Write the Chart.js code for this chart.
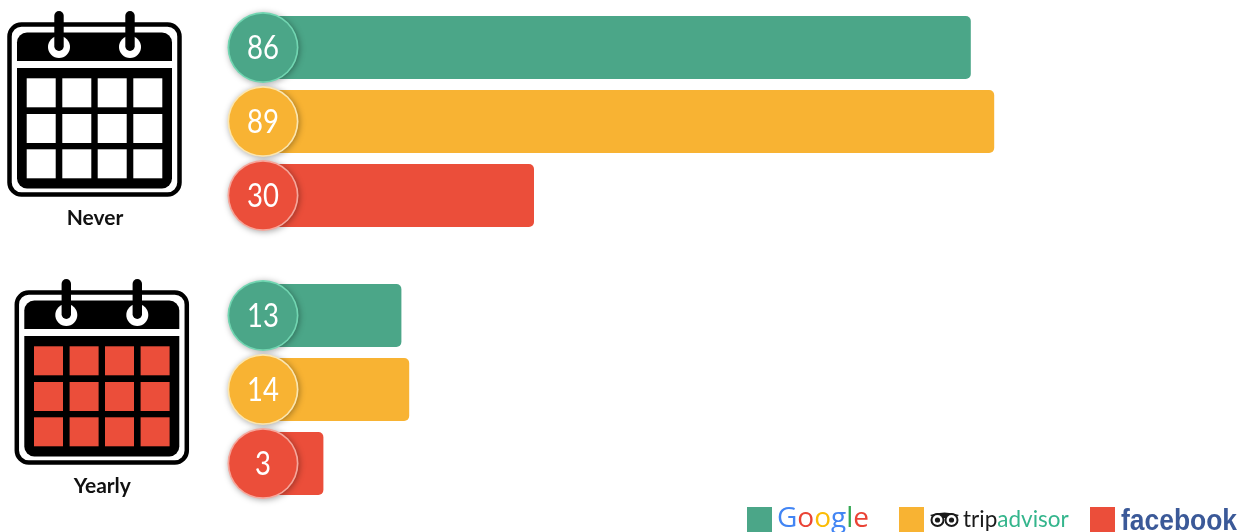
<!DOCTYPE html>
<html>
<head>
<meta charset="utf-8">
<title>Review frequency by platform</title>
<script src="https://cdn.jsdelivr.net/npm/chart.js@4"></script>
<style>
  html, body { margin: 0; padding: 0; background: #fff; overflow: hidden; }
  #wrap { position: absolute; left: 0; top: -20px; width: 1245px; height: 552px; }
</style>
</head>
<body>
<div id="wrap"><canvas id="c" width="1245" height="552"></canvas></div>
<script>
const categories = ['Never', 'Yearly'];
const seriesNames = ['Google', 'tripadvisor', 'facebook'];
const googleValues = [86, 13];
const tripadvisorValues = [89, 14];
const facebookValues = [30, 3];
const seriesColors = ['#4BA688', '#F8B333', '#EB4E3A'];
const rimColors = ['#72D6B2', '#FBE6B0', '#F6A79C'];
const cellColors = ['#FFFFFF', '#EB4E3A'];

const TOP_OFFSET = 20;   // the canvas starts above the page so both groups can sit on even category bands

function roundRect(ctx, x, y, w, h, r) {
  ctx.beginPath();
  ctx.roundRect(x, y, w, h, r);
}

// Wall calendar with two binder rings; ox/oy is the icon's offset on the page.
function drawCalendar(ctx, ox, oy, cellColor) {
  ctx.save();
  ctx.translate(ox, oy);
  ctx.strokeStyle = '#000';
  ctx.lineWidth = 4.5;
  roundRect(ctx, 9.5, 24.5, 170, 170, 12);
  ctx.stroke();
  ctx.fillStyle = '#000';
  roundRect(ctx, 17, 32.5, 155, 28.5, [10, 10, 0, 0]);
  ctx.fill();
  roundRect(ctx, 17, 68, 155, 120.5, [0, 0, 10, 10]);
  ctx.fill();
  ctx.fillStyle = cellColor;
  [26.7, 62.3, 97.7, 133.3].forEach(cx => {
    [78.3, 114, 149.3].forEach(cy => ctx.fillRect(cx, cy, 29, 29));
  });
  [59, 130].forEach(px => {
    ctx.fillStyle = '#fff';
    ctx.beginPath(); ctx.arc(px, 47, 11, 0, Math.PI * 2); ctx.fill();
    ctx.fillStyle = '#000';
    roundRect(ctx, px - 4.7, 11, 9.4, 40, 4.7);
    ctx.fill();
  });
  ctx.restore();
}

// TripAdvisor owl: two ringed eyes and a small beak.
function drawOwl(ctx, x, y) {
  ctx.save();
  ctx.fillStyle = '#1a1a1a';
  ctx.beginPath();
  ctx.moveTo(x - 1, y - 5);
  ctx.quadraticCurveTo(x + 13.5, y - 10, x + 28, y - 5);
  ctx.lineTo(x + 24, y - 2);
  ctx.lineTo(x + 3, y - 2);
  ctx.fill();
  [x + 6.5, x + 20.5].forEach(ex => {
    ctx.fillStyle = '#1a1a1a';
    ctx.beginPath(); ctx.arc(ex, y, 7, 0, Math.PI * 2); ctx.fill();
    ctx.fillStyle = '#fff';
    ctx.beginPath(); ctx.arc(ex, y, 5, 0, Math.PI * 2); ctx.fill();
    ctx.fillStyle = '#1a1a1a';
    ctx.beginPath(); ctx.arc(ex, y, 2.6, 0, Math.PI * 2); ctx.fill();
  });
  ctx.restore();
}

function drawRuns(ctx, x, y, runs) {
  runs.forEach(([text, color]) => {
    ctx.fillStyle = color;
    ctx.fillText(text, x, y);
    x += ctx.measureText(text).width;
  });
}

const categoryArt = {
  id: 'categoryArt',
  afterDraw(chart) {
    const ctx = chart.ctx;
    const yScale = chart.scales.y;
    const iconX = [0, 7.3];
    ctx.save();
    categories.forEach((name, i) => {
      const mid = yScale.getPixelForValue(i);
      const oy = mid - 121.5;
      drawCalendar(ctx, iconX[i], oy, cellColors[i]);
      ctx.fillStyle = '#111';
      ctx.font = '700 21px Lato';
      ctx.textAlign = 'center';
      ctx.textBaseline = 'alphabetic';
      ctx.fillText(name, 95 + iconX[i], oy + 225);
    });
    ctx.restore();
  }
};

const valueBadges = {
  id: 'valueBadges',
  afterDatasetsDraw(chart) {
    const ctx = chart.ctx;
    const cx = 263;
    chart.data.datasets.forEach((ds, d) => {
      chart.getDatasetMeta(d).data.forEach((bar, i) => {
        ctx.save();
        ctx.shadowColor = 'rgba(0,0,0,0.35)';
        ctx.shadowBlur = 6;
        ctx.shadowOffsetX = 1;
        ctx.shadowOffsetY = 1;
        ctx.fillStyle = rimColors[d];
        ctx.beginPath(); ctx.arc(cx, bar.y, 35.5, 0, Math.PI * 2); ctx.fill();
        ctx.restore();
        ctx.fillStyle = ds.backgroundColor;
        ctx.beginPath(); ctx.arc(cx, bar.y, 33.8, 0, Math.PI * 2); ctx.fill();
        // slightly condensed figures for the badge numbers
        ctx.save();
        ctx.translate(cx, bar.y + 1);
        ctx.scale(0.86, 1);
        ctx.fillStyle = '#fff';
        ctx.font = '400 32px Lato';
        ctx.textAlign = 'center';
        ctx.textBaseline = 'middle';
        ctx.fillText(String(ds.data[i]), 0, 0);
        ctx.restore();
      });
    });
  }
};

const brandLegend = {
  id: 'brandLegend',
  afterDraw(chart) {
    const ctx = chart.ctx;
    ctx.save();
    ctx.translate(0, TOP_OFFSET);
    ctx.textAlign = 'left';
    ctx.textBaseline = 'alphabetic';
    [747, 899, 1090].forEach((x, d) => {
      ctx.fillStyle = seriesColors[d];
      ctx.fillRect(x, 507, 25, 25);
    });
    ctx.font = '400 28px "Open Sans"';
    drawRuns(ctx, 777, 527, [['G', '#4285F4'], ['o', '#EA4335'], ['o', '#FBBC05'], ['g', '#4285F4'], ['l', '#34A853'], ['e', '#EA4335']]);
    drawOwl(ctx, 931, 520);
    ctx.font = '400 22.5px Lato';
    drawRuns(ctx, 963, 527, [['trip', '#1a1a1a'], ['advisor', '#34B58C']]);
    ctx.save();
    ctx.translate(1121, 530);
    ctx.font = '700 30px "Liberation Sans"';
    ctx.scale(116 / ctx.measureText(seriesNames[2]).width, 1);
    ctx.fillStyle = '#3B5998';
    ctx.fillText(seriesNames[2], 0, 0);
    ctx.restore();
    ctx.restore();
  }
};

const seriesValues = [googleValues, tripadvisorValues, facebookValues];

new Chart(document.getElementById('c'), {
  type: 'bar',
  data: {
    labels: categories,
    datasets: seriesNames.map((name, d) => ({
      label: name,
      data: seriesValues[d],
      backgroundColor: seriesColors[d],
      base: -5,
      borderRadius: 5,
      borderSkipped: false,
      categoryPercentage: 222 / 268,
      barPercentage: 63 / 74
    }))
  },
  options: {
    indexAxis: 'y',
    responsive: false,
    animation: false,
    layout: { padding: { left: 261, right: 9, top: 7.5, bottom: 8.5 } },
    plugins: { legend: { display: false }, tooltip: { enabled: false } },
    scales: {
      x: { display: false, min: -5, max: 120 },
      y: { display: false }
    }
  },
  plugins: [valueBadges, categoryArt, brandLegend]
});
</script>
</body>
</html>
